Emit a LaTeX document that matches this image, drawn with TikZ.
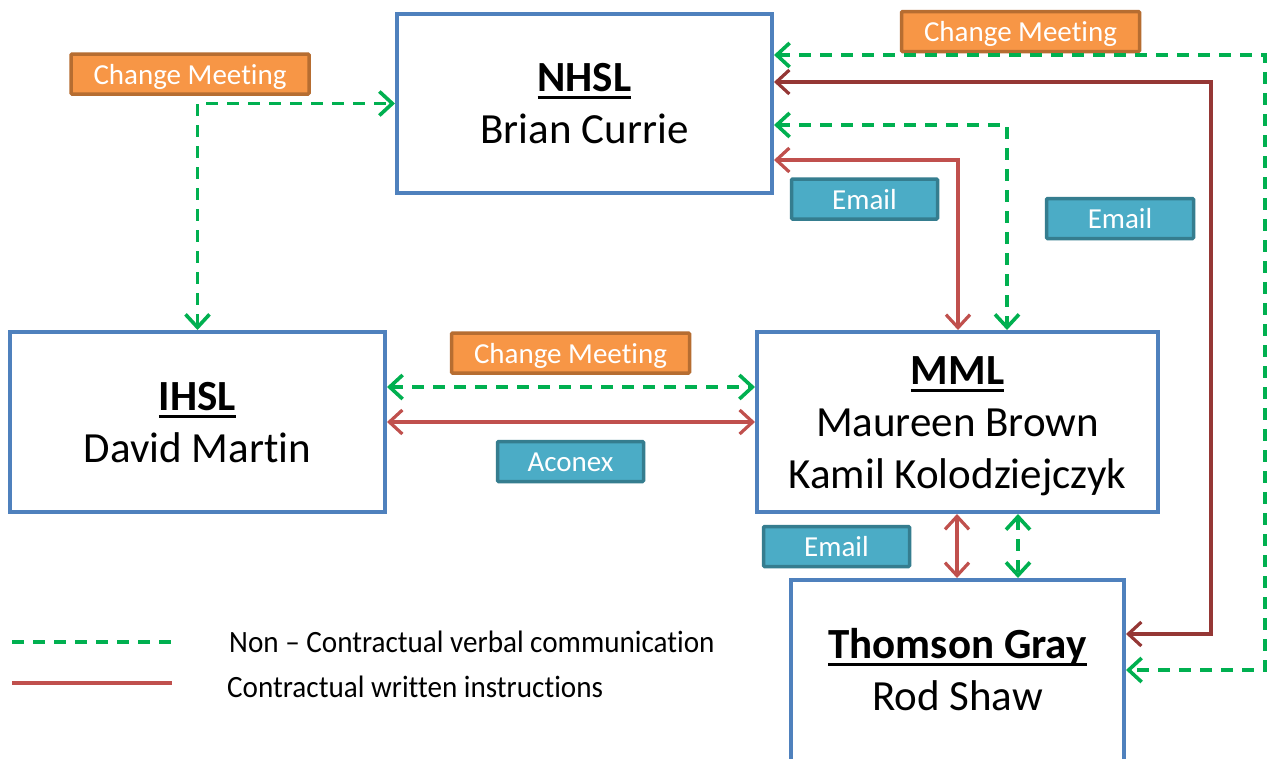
\documentclass[tikz,border=0pt]{standalone}
\usepackage{graphicx}
\usepackage{fontspec}
\setmainfont{Carlito}[Ligatures={TeX,NoCommon}]
\usetikzlibrary{arrows.meta}
\definecolor{boxblue}{HTML}{4F81BD}
\definecolor{vgreen}{HTML}{00B050}
\definecolor{wred}{HTML}{C0504D}
\definecolor{dred}{HTML}{953735}
\definecolor{orfill}{HTML}{F79646}
\definecolor{ordraw}{HTML}{B66D31}
\definecolor{tlfill}{HTML}{4BACC6}
\definecolor{tldraw}{HTML}{357D8F}
\newcommand\ulhead[1]{\setbox0\hbox{\bfseries #1}\rlap{\rule[-8pt]{\wd0}{3.4pt}}\box0}
\newcommand\lines[1]{\begin{tabular}[t]{@{}c@{}}#1\end{tabular}}
\tikzset{
  party/.style={draw=boxblue, line width=4pt, fill=white, inner sep=0pt},
  partytext/.style={anchor=base, inner sep=0pt, font=\fontsize{43}{52}\selectfont},
  tag/.style={line width=3.5pt, text=white, font=\fontsize{29}{32}\selectfont,
    inner sep=0pt, rounded corners=1pt, text height=20pt, text depth=0pt,
    minimum height=40pt},
  meettag/.style={tag, draw=ordraw, fill=orfill, minimum width=238pt},
  mailtag/.style={tag, draw=tldraw, fill=tlfill, minimum width=146pt},
  barbs/.style={arrows={Straight Barb[length=13pt,width=24pt]-Straight Barb[length=13pt,width=24pt]}},
  verbal/.style={draw=vgreen, line width=3.6pt, dash pattern=on 12pt off 9pt, barbs},
  written/.style={draw=wred, line width=3.2pt, barbs},
  writtendark/.style={written, draw=dred},
  legtext/.style={anchor=base west, font=\fontsize{31}{34}\selectfont, inner sep=0pt}
}
\begin{document}
\begin{tikzpicture}[x=1pt,y=-1pt]
\useasboundingbox[fill=white] (0,0) rectangle (1268,758);

% parties
\node[party, minimum width=375pt, minimum height=179pt] (nhsl) at (584.5,103.5) {};
\node[party, minimum width=375pt, minimum height=180pt] (ihsl) at (197.5,422) {};
\node[party, minimum width=401pt, minimum height=180pt] (mml) at (957.5,422) {};
\node[party, minimum width=333pt, minimum height=184pt] (tg) at (957.5,672) {};

\node[partytext] (nhsl-t) at (584.5,91) {\lines{\ulhead{NHSL}\\Brian Currie}};
\node[partytext] (ihsl-t) at (197.5,410) {\lines{\ulhead{IHSL}\\David Martin}};
\node[partytext] (mml-t) at (957.5,384) {\lines{\ulhead{MML}\\Maureen Brown\\Kamil Kolodziejczyk}};
\node[partytext] (tg-t) at (957.5,658) {\lines{\ulhead{Thomson Gray}\\Rod Shaw}};

% tags
\node[meettag] (cm1) at (190,74) {Change Meeting};
\node[meettag] (cm2) at (1020.5,31.5) {Change Meeting};
\node[meettag] (cm3) at (570.5,353) {Change Meeting};
\node[mailtag] (em1) at (864.5,199) {Email};
\node[mailtag, minimum width=147pt] (em2) at (1120,218.5) {Email};
\node[mailtag] (acx) at (570.5,461.5) {Aconex};
\node[mailtag] (em3) at (836.5,546.5) {Email};

% corner points of the routed connectors
\coordinate (cA) at (1265,55);
\coordinate (cB) at (1265,670);
\coordinate (cC) at (1211,82);
\coordinate (cD) at (1211,634);

% connectors
\draw[verbal] (ihsl.north) |- (nhsl.west);
\draw[verbal] (nhsl.east |- cA) -- (cA) -- (cB) -- (tg.east |- cB);
\draw[writtendark] (nhsl.east |- cC) -- (cC) -- (cD) -- (tg.east |- cD);
\draw[verbal] (nhsl.east |- 0,125) -| (mml.north -| 1007,0);
\draw[written] (nhsl.east |- 0,160) -| (mml.north -| 958,0);
\draw[verbal] (ihsl.east |- 0,387) -- (mml.west |- 0,387);
\draw[written] (ihsl.east |- 0,422) -- (mml.west |- 0,422);
\draw[written] (mml.south -| 957,0) -- (tg.north -| 957,0);
\draw[verbal] (mml.south -| 1018,0) -- (tg.north -| 1018,0);

% legend
\coordinate (lg1a) at (12,642);
\coordinate (lg1b) at (172,642);
\coordinate (lg2a) at (12,683);
\coordinate (lg2b) at (172,683);
\draw[draw=vgreen, line width=3.6pt, dash pattern=on 12pt off 9pt] (lg1a) -- (lg1b);
\draw[draw=wred, line width=3.2pt] (lg2a) -- (lg2b);
\node[legtext] (lt1) at (229,652) {\scalebox{0.94}[1]{Non – Contractual verbal communication}};
\node[legtext] (lt2) at (227,697) {\scalebox{0.94}[1]{Contractual written instructions}};
\end{tikzpicture}
\end{document}
